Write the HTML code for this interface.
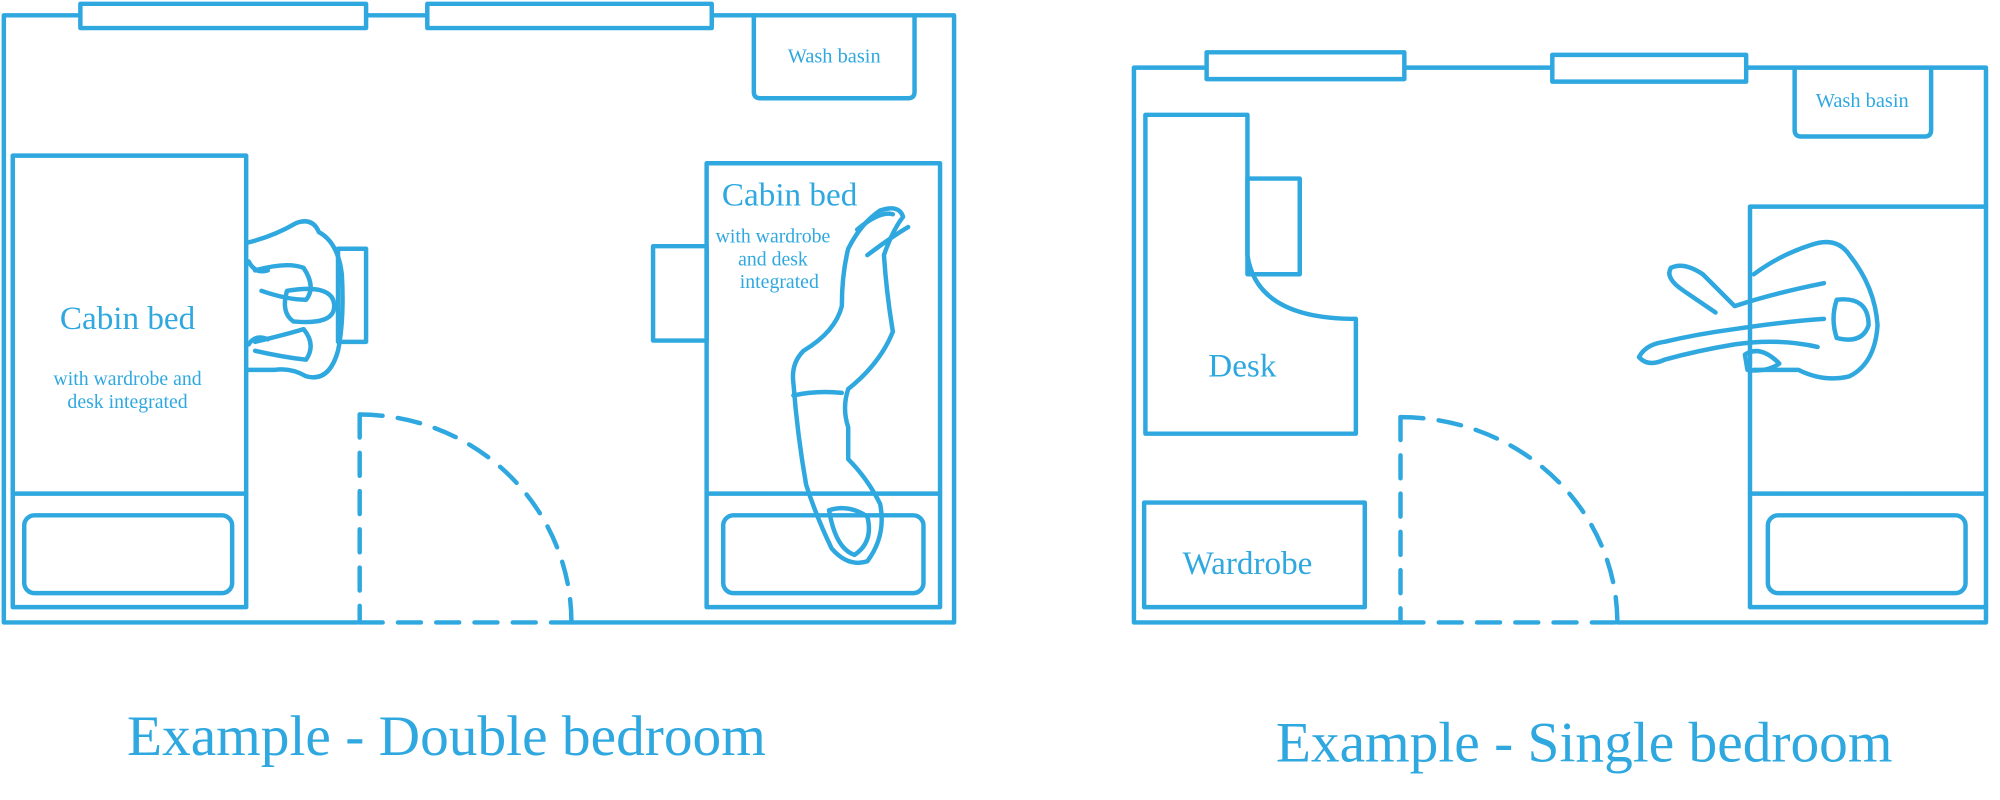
<!DOCTYPE html>
<html><head><meta charset="utf-8"><style>
html,body{margin:0;padding:0;background:#fff;}
svg{display:block;}
text{font-family:"Liberation Serif",serif;fill:#2fa8e0;}
</style></head><body>
<svg width="2000" height="800" viewBox="0 0 1568 627.2" preserveAspectRatio="none" xmlns="http://www.w3.org/2000/svg">
<g fill="none" stroke="#2fa8e0" stroke-width="3.5" stroke-linejoin="round" stroke-linecap="round">
<path d="M280,488 H3 V12 H748 V488 H448"/>
<rect x="63" y="3" width="224" height="19" fill="#fff"/>
<rect x="335" y="3" width="223" height="19" fill="#fff"/>
<path d="M591,12 V72 Q591,77 596,77 H712 Q717,77 717,72 V12"/>
<rect x="10" y="122" width="183" height="354"/>
<line x1="10" y1="387" x2="193" y2="387"/>
<rect x="19" y="404" width="163" height="61" rx="8"/>
<rect x="265" y="195" width="22" height="73"/>
<path d="M195,190 Q215,185 232,175 Q245,170 250,182 Q265,190 268,215 Q270,250 265,275 Q258,300 240,295 Q228,288 215,290 L195,290"/>
<path d="M200,212 Q225,205 238,210 Q248,225 240,235 Q225,235 205,228"/>
<path d="M225,228 Q262,222 262,240 Q262,255 230,252 Q220,245 225,228Z"/>
<path d="M200,268 Q225,262 238,258 Q248,270 240,282 Q222,280 200,275"/>
<path d="M195,205 Q200,215 210,212 M195,270 Q200,262 210,266"/>
<g stroke-dasharray="18,12">
<line x1="282" y1="325" x2="282" y2="488"/>
<path d="M282,325 A166,163 0 0 1 448,488"/>
<line x1="282" y1="488" x2="448" y2="488"/>
</g>
<rect x="554" y="128" width="183" height="348"/>
<line x1="554" y1="387" x2="737" y2="387"/>
<rect x="567" y="404" width="157" height="61" rx="8"/>
<rect x="512" y="193" width="42" height="74"/>
<path d="M690,165 Q705,160 708,170 Q700,180 693,200 Q695,230 700,260 Q690,285 665,305 Q660,320 665,335 L665,360 Q680,375 690,395 Q695,420 680,440 Q665,445 652,430 Q640,405 632,380 Q625,340 622,300 Q620,285 630,275 Q655,260 660,240 Q660,215 665,195 Q675,175 690,165Z"/>
<path d="M672,180 Q690,165 700,168 M680,200 Q700,185 712,178"/>
<path d="M622,310 Q640,306 660,308"/>
<path d="M650,400 Q665,395 680,405 Q685,425 670,435 Q655,430 650,400Z"/>
<path d="M1098,488 H889 V53 H1557 V488 H1268"/>
<rect x="946" y="41" width="155" height="21" fill="#fff"/>
<rect x="1217" y="43" width="152" height="21" fill="#fff"/>
<path d="M1407,53 V102 Q1407,107 1412,107 H1509 Q1514,107 1514,102 V53"/>
<path d="M898,90 H978 V200 Q985,250 1063,250 V340 H898 Z"/>
<rect x="978" y="140" width="41" height="75"/>
<rect x="897" y="394" width="173" height="82"/>
<g stroke-dasharray="18,12">
<line x1="1098" y1="327" x2="1098" y2="488"/>
<path d="M1098,327 A170,161 0 0 1 1268,488"/>
<line x1="1098" y1="488" x2="1268" y2="488"/>
</g>
<path d="M1372,162 H1557 M1372,162 V476 H1557"/>
<line x1="1372" y1="387" x2="1557" y2="387"/>
<rect x="1386" y="404" width="155" height="61" rx="8"/>
<path d="M1375,215 Q1395,200 1420,192 Q1440,185 1450,200 Q1470,225 1472,255 Q1470,285 1450,295 Q1430,300 1410,290 L1375,290"/>
<path d="M1440,235 Q1465,232 1465,255 Q1460,270 1440,265 Q1435,250 1440,235Z"/>
<path d="M1310,210 Q1320,205 1335,215 Q1350,230 1360,240 Q1390,230 1430,222"/>
<path d="M1310,210 Q1305,218 1320,228 L1345,245"/>
<path d="M1285,280 Q1290,270 1305,268 Q1330,262 1360,258 Q1400,252 1430,250"/>
<path d="M1285,280 Q1292,288 1305,282 Q1330,275 1360,270 Q1395,265 1425,272"/>
<path d="M1368,278 Q1380,270 1395,285 Q1385,292 1370,290Z"/>
</g>
<text x="654" y="49" font-size="16" text-anchor="middle">Wash basin</text>
<text x="100" y="258" font-size="26" text-anchor="middle">Cabin bed</text>
<text x="100" y="302" font-size="15.5" text-anchor="middle">with wardrobe and</text>
<text x="100" y="320" font-size="15.5" text-anchor="middle">desk integrated</text>
<text x="566" y="161" font-size="26">Cabin bed</text>
<text x="606" y="190" font-size="15.5" text-anchor="middle">with wardrobe</text>
<text x="606" y="208" font-size="15.5" text-anchor="middle">and desk</text>
<text x="611" y="226" font-size="15.5" text-anchor="middle">integrated</text>
<text x="1460" y="84" font-size="16" text-anchor="middle">Wash basin</text>
<text x="974" y="295" font-size="26" text-anchor="middle">Desk</text>
<text x="978" y="450" font-size="26" text-anchor="middle">Wardrobe</text>
<text x="350" y="592" font-size="45" text-anchor="middle">Example - Double bedroom</text>
<text x="1242" y="597" font-size="45" text-anchor="middle">Example - Single bedroom</text>
</svg>
</body></html>
